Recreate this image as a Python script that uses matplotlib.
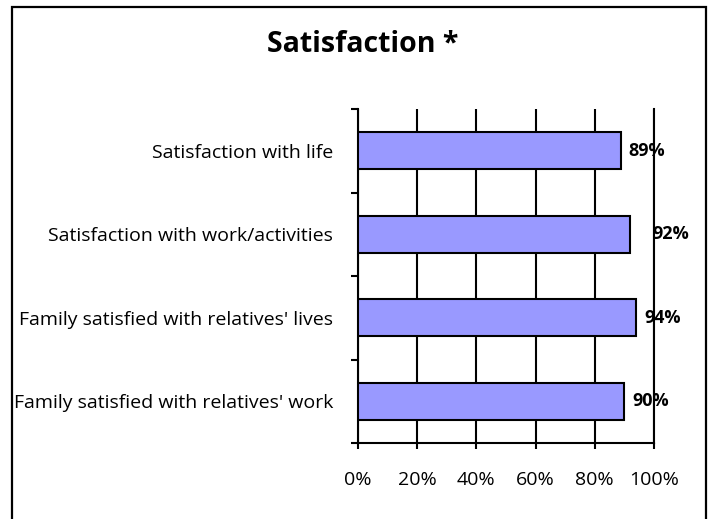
import matplotlib.pyplot as plt
from matplotlib.patches import Rectangle

# datos
categorias = ["Satisfaction with life",
              "Satisfaction with work/activities",
              "Family satisfied with relatives' lives",
              "Family satisfied with relatives' work"]
valores = [89, 92, 94, 90]
ticks_x = [0, 20, 40, 60, 80, 100]
etiquetas_x = ["0%", "20%", "40%", "60%", "80%", "100%"]

plt.rcParams['font.family'] = ['Open Sans', 'DejaVu Sans']

fig = plt.figure(figsize=(7.11, 5.19), dpi=100)
# ejes: x 358..654 px, y 109..443 px
ax = fig.add_axes([358 / 711, 1 - 443 / 519, 296 / 711, 334 / 519])

# marco exterior (se corta por abajo)
fig.patches.append(Rectangle((11.5 / 711, -0.02), (706 - 11.5) / 711, 1 - 7 / 519 + 0.02,
                             transform=fig.transFigure, fill=False,
                             edgecolor="black", linewidth=1.6, clip_on=False))

n = len(categorias)
pos = [n - 1 - i for i in range(n)]
ax.barh(pos, valores, height=0.44, color="#9999FF", edgecolor="black", linewidth=1.5, zorder=3)

desplaz = [2.5, 7.5, 2.7, 2.6]
for p, v, d in zip(pos, valores, desplaz):
    ax.text(v + d, p, f"{v}%", va="center", ha="left", fontsize=13, fontweight="bold", zorder=4)

ax.set_xlim(0, 100)
ax.set_ylim(-0.5, n - 0.5)
ax.set_xticks(ticks_x)
ax.set_xticklabels(etiquetas_x, fontsize=14)
ax.xaxis.grid(True, color="black", linewidth=1.5)
ax.set_axisbelow(True)

ax.set_yticks([i - 0.5 for i in range(n + 1)])
ax.set_yticklabels([])
ax.set_yticks(pos, minor=True)
ax.set_yticklabels(categorias, minor=True, fontsize=14)
ax.tick_params(axis="y", which="minor", length=0, pad=18)
ax.tick_params(axis="y", which="major", length=5, width=1.5)
ax.tick_params(axis="x", length=4, width=1.5, pad=16)

ax.spines["top"].set_visible(False)
for s in ["left", "bottom", "right"]:
    ax.spines[s].set_linewidth(1.5)

fig.text(363 / 711, 1 - 45 / 519, "Satisfaction *", ha="center", va="center",
         fontsize=20.5, fontweight="bold")

plt.savefig("out.png", dpi=100)
